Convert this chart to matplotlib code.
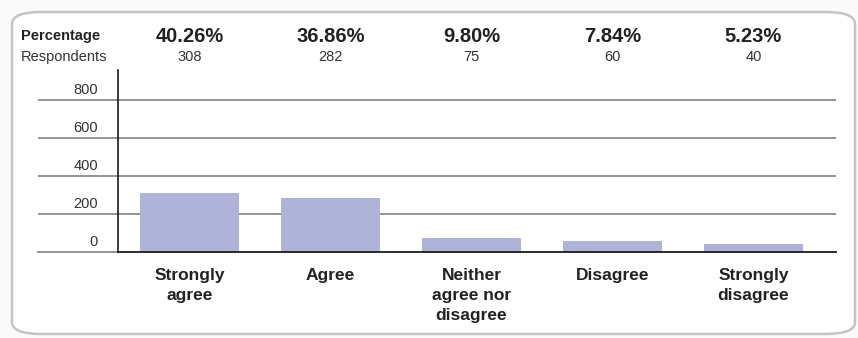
import matplotlib
matplotlib.use("Agg")
import matplotlib.pyplot as plt
from matplotlib.patches import FancyBboxPatch

categories = ["Strongly\nagree", "Agree", "Neither\nagree nor\ndisagree", "Disagree", "Strongly\ndisagree"]
respondents = [308, 282, 75, 60, 40]
percentages = ["40.26%", "36.86%", "9.80%", "7.84%", "5.23%"]
yticks = [0, 200, 400, 600, 800]

W, H = 858, 338
plt.rcParams['font.family'] = ['Liberation Sans', 'DejaVu Sans']
fig = plt.figure(figsize=(W / 100, H / 100), dpi=100)

def fx(px):
    return px / W

def fy(py):
    return 1 - py / H

# card border
card = FancyBboxPatch((fx(12), fy(334)), fx(843) - fx(0), fy(12) - fy(334),
                      boxstyle="round,pad=0,rounding_size=0.035",
                      transform=fig.transFigure, facecolor="white",
                      edgecolor="#c4c4c4", linewidth=1.8, zorder=-5)
fig.patches.append(card)

# axes: pixels x 38..836, y 70..252
ax_left, ax_right, ax_top, ax_bottom = 38, 836, 70, 252
ax = fig.add_axes([fx(ax_left), fy(ax_bottom), fx(ax_right) - fx(ax_left), fy(ax_top) - fy(ax_bottom)])
ax.set_zorder(2)
ax.patch.set_alpha(0)
for s in ax.spines.values():
    s.set_visible(False)
ax.set_xticks([])
ax.set_yticks([])

spacing = 141.0
c0 = 189.5
xmin = (ax_left - c0) / spacing
xmax = (ax_right - c0) / spacing
ax.set_xlim(xmin, xmax)
ymax = (ax_bottom - ax_top) / 38.0 * 200
ax.set_ylim(0, ymax)

x = list(range(len(categories)))
ax.bar(x, respondents, width=99 / spacing, color="#b0b3d8", zorder=2)

yaxis_x = (118 - c0) / spacing
for t in yticks:
    if t == 0:
        ax.plot([xmin, yaxis_x], [0, 0], color="#8a8a8a", lw=1.3, zorder=1, clip_on=False)
        ax.plot([yaxis_x, xmax], [0, 0], color="#1a1a1a", lw=1.3, zorder=3, clip_on=False)
    else:
        ax.axhline(t, color="#8a8a8a", lw=1.3, zorder=1)
    ax.text((98 - c0) / spacing, t + 14, str(t), ha="right", va="bottom",
            fontsize=10.5, color="#333333")
ax.plot([yaxis_x, yaxis_x], [0, ymax], color="#1a1a1a", lw=1.2, zorder=3, clip_on=False)

for i, (cat, r, p) in enumerate(zip(categories, respondents, percentages)):
    ax.annotate(cat, xy=(i, 0), xytext=(0, -11.5), textcoords="offset points",
                ha="center", va="top", fontsize=12.5, fontweight="bold",
                color="#222222", linespacing=1.42, annotation_clip=False)
    cx = fx(c0 + spacing * i)
    fig.text(cx, fy(36), p, ha="center", va="center", fontsize=14.5, fontweight="bold", color="#222222")
    fig.text(cx, fy(57), str(r), ha="center", va="center", fontsize=10.5, color="#333333")

fig.text(fx(21), fy(36), "Percentage", ha="left", va="center", fontsize=10.5, fontweight="bold", color="#222222")
fig.text(fx(21), fy(57), "Respondents", ha="left", va="center", fontsize=10.5, color="#333333")

fig.savefig("out.png", dpi=100, facecolor="#fafafa")
